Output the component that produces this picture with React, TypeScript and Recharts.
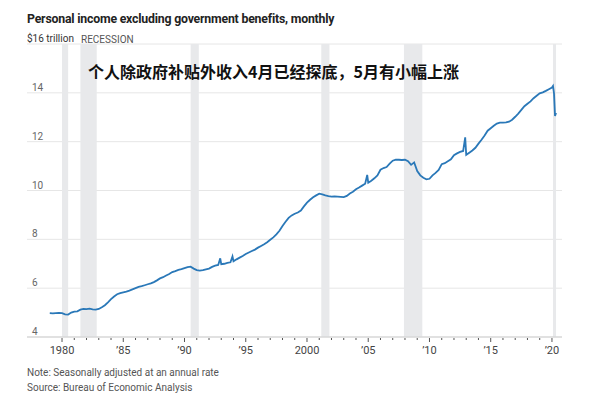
import React from "react";
import { LineChart, Line, XAxis, YAxis, CartesianGrid, ReferenceArea } from "recharts";

// monthly readings (quarterly sampling + the December spikes), $ trillions
const months = [
  "1979-01", "1979-04", "1979-07", "1979-10",
  "1980-01", "1980-04", "1980-07", "1980-10",
  "1981-01", "1981-04", "1981-07", "1981-10",
  "1982-01", "1982-04", "1982-07", "1982-10",
  "1983-01", "1983-04", "1983-07", "1983-10",
  "1984-01", "1984-04", "1984-07", "1984-10",
  "1985-01", "1985-04", "1985-07", "1985-10",
  "1986-01", "1986-04", "1986-07", "1986-10",
  "1987-01", "1987-04", "1987-07", "1987-10",
  "1988-01", "1988-04", "1988-07", "1988-10",
  "1989-01", "1989-04", "1989-07", "1989-10",
  "1990-01", "1990-04", "1990-07", "1990-10",
  "1991-01", "1991-04", "1991-07", "1991-10",
  "1992-01", "1992-04", "1992-07", "1992-10", "1992-12",
  "1993-01", "1993-04", "1993-07", "1993-10", "1993-12",
  "1994-01", "1994-04", "1994-07", "1994-10",
  "1995-01", "1995-04", "1995-07", "1995-10",
  "1996-01", "1996-04", "1996-07", "1996-10",
  "1997-01", "1997-04", "1997-07", "1997-10",
  "1998-01", "1998-04", "1998-07", "1998-10",
  "1999-01", "1999-04", "1999-07", "1999-10",
  "2000-01", "2000-04", "2000-07", "2000-10",
  "2001-01", "2001-04", "2001-07", "2001-10",
  "2002-01", "2002-04", "2002-07", "2002-10",
  "2003-01", "2003-04", "2003-07", "2003-10",
  "2004-01", "2004-04", "2004-07", "2004-10", "2004-12",
  "2005-01", "2005-04", "2005-07", "2005-10",
  "2006-01", "2006-04", "2006-07", "2006-10",
  "2007-01", "2007-04", "2007-07", "2007-10",
  "2008-01", "2008-04", "2008-07", "2008-10",
  "2009-01", "2009-04", "2009-07", "2009-10",
  "2010-01", "2010-04", "2010-07", "2010-10",
  "2011-01", "2011-04", "2011-07", "2011-10",
  "2012-01", "2012-04", "2012-07", "2012-10", "2012-12",
  "2013-01", "2013-04", "2013-07", "2013-10",
  "2014-01", "2014-04", "2014-07", "2014-10",
  "2015-01", "2015-04", "2015-07", "2015-10",
  "2016-01", "2016-04", "2016-07", "2016-10",
  "2017-01", "2017-04", "2017-07", "2017-10",
  "2018-01", "2018-04", "2018-07", "2018-10",
  "2019-01", "2019-04", "2019-07", "2019-10",
  "2020-01", "2020-02", "2020-03", "2020-04", "2020-05",
];

const incomeTrillions = [
  4.98, 4.97, 4.98, 4.99,
  4.98, 4.93, 4.92, 5.0,
  5.04, 5.05, 5.12, 5.15,
  5.14, 5.16, 5.13, 5.12,
  5.15, 5.22, 5.3, 5.42,
  5.55, 5.66, 5.75, 5.8,
  5.83, 5.86, 5.9, 5.95,
  6.0, 6.05, 6.08, 6.12,
  6.16, 6.2, 6.25, 6.32,
  6.4, 6.45, 6.52, 6.58,
  6.66, 6.7, 6.75, 6.78,
  6.82, 6.86, 6.88, 6.8,
  6.74, 6.72, 6.74, 6.77,
  6.8, 6.87, 6.92, 6.95, 7.22,
  6.98, 7.0, 7.04, 7.06, 7.3,
  7.1, 7.18, 7.25, 7.32,
  7.4, 7.46, 7.52, 7.58,
  7.66, 7.73, 7.8, 7.88,
  7.98, 8.08, 8.2, 8.35,
  8.55, 8.72, 8.88, 8.98,
  9.05, 9.1, 9.18, 9.35,
  9.5, 9.62, 9.72, 9.8,
  9.87, 9.84, 9.8, 9.77,
  9.75, 9.76, 9.75, 9.74,
  9.73, 9.78, 9.88, 9.95,
  10.05, 10.12, 10.2, 10.28, 10.64,
  10.32, 10.4, 10.5, 10.62,
  10.85, 10.92, 10.96, 11.1,
  11.22, 11.26, 11.26, 11.25,
  11.26, 11.2, 11.05, 11.15,
  10.8, 10.62, 10.52, 10.46,
  10.48, 10.62, 10.72, 10.84,
  11.08, 11.12, 11.2, 11.28,
  11.45, 11.52, 11.58, 11.62, 12.18,
  11.46, 11.55, 11.64, 11.75,
  11.92, 12.08, 12.25, 12.45,
  12.55, 12.65, 12.74, 12.78,
  12.78, 12.79, 12.82, 12.9,
  13.02, 13.15, 13.3, 13.45,
  13.55, 13.65, 13.78, 13.88,
  13.98, 14.02, 14.08, 14.15,
  14.22, 14.28, 13.98, 13.05, 13.18,
];

const recessionStarts = ["1980-01", "1981-07", "1990-07", "2001-03", "2007-12", "2020-02"];
const recessionEnds = ["1980-07", "1982-11", "1991-03", "2001-11", "2009-06", "2020-05"];

const yTicks = [4, 6, 8, 10, 12, 14, 16];
const yearTicks = [
  1980, 1981, 1982, 1983, 1984, 1985, 1986, 1987, 1988, 1989,
  1990, 1991, 1992, 1993, 1994, 1995, 1996, 1997, 1998, 1999,
  2000, 2001, 2002, 2003, 2004, 2005, 2006, 2007, 2008, 2009,
  2010, 2011, 2012, 2013, 2014, 2015, 2016, 2017, 2018, 2019, 2020,
];
const yearLabels: Record<number, string> = {
  1980: "1980", 1985: "’85", 1990: "’90", 1995: "’95", 2000: "2000",
  2005: "’05", 2010: "’10", 2015: "’15", 2020: "’20",
};

const toYear = (m: string) => {
  const [y, mo] = m.split("-").map(Number);
  return y + (mo - 1) / 12;
};

const data = months.map((m, i) => ({ t: toYear(m), v: incomeTrillions[i] }));

const LATIN = "Roboto, 'Noto Sans', sans-serif";

function YearTick({ x, y, payload }: any) {
  const label = yearLabels[payload.value];
  const major = label !== undefined;
  return (
    <g>
      <line x1={x} x2={x} y1={y + 1} y2={y + (major ? 5 : 3)} stroke="#555" strokeWidth={1} />
      {major && (
        <text x={x} y={y + 17} textAnchor="middle" fontSize={11} fill="#444" fontFamily={LATIN}>
          {label}
        </text>
      )}
    </g>
  );
}

function ValueTick({ y, payload }: any) {
  const top = payload.value === 16;
  return (
    <text x={top ? 27 : 32} y={y - 2} fontSize={10} fill={top ? "#333" : "#666"} fontFamily={LATIN}>
      {top ? "$16 trillion" : payload.value}
    </text>
  );
}

export default function App() {
  return (
    <div style={{ position: "absolute", left: 0, top: 0, width: 600, height: 402, background: "#fff" }}>
      <LineChart width={600} height={402} data={data} margin={{ top: 44, right: 38, bottom: 64, left: 26 }}>
        {recessionStarts.map((s, i) => (
          <ReferenceArea
            key={s}
            x1={toYear(s)}
            x2={toYear(recessionEnds[i])}
            y1={4}
            y2={16}
            fill="#e8e9eb"
            fillOpacity={1}
            stroke="none"
            ifOverflow="hidden"
          />
        ))}
        <CartesianGrid horizontal vertical={false} stroke="#e6e6e6" />
        <XAxis
          type="number"
          dataKey="t"
          domain={[1977.14, 2020.82]}
          ticks={yearTicks}
          tick={<YearTick />}
          tickLine={false}
          tickSize={0}
          tickMargin={0}
          height={1}
          axisLine={{ stroke: "#cfcfcf" }}
          interval={0}
          allowDataOverflow
        />
        <YAxis
          type="number"
          domain={[4, 16]}
          ticks={yTicks}
          width={1}
          axisLine={false}
          tickLine={false}
          tick={<ValueTick />}
          interval={0}
        />
        <Line
          type="linear"
          dataKey="v"
          stroke="#2a78b8"
          strokeWidth={1.8}
          dot={false}
          isAnimationActive={false}
        />
      </LineChart>
      <div style={{ position: "absolute", left: 27, top: 12, fontFamily: LATIN, fontWeight: 700, fontSize: 12.3, color: "#222", letterSpacing: -0.2, whiteSpace: "nowrap" }}>
        Personal income excluding government benefits, monthly
      </div>
      <div style={{ position: "absolute", left: 81, top: 34, fontFamily: LATIN, fontSize: 10, color: "#555", whiteSpace: "nowrap" }}>
        RECESSION
      </div>
      <div style={{ position: "absolute", left: 88, top: 59, fontFamily: "'Noto Sans CJK SC', sans-serif", fontWeight: 700, fontSize: 16, color: "#111", whiteSpace: "nowrap" }}>
        个人除政府补贴外收入4月已经探底，5月有小幅上涨
      </div>
      <div style={{ position: "absolute", left: 27, top: 365, fontFamily: LATIN, fontSize: 10, color: "#555", lineHeight: "15px", whiteSpace: "nowrap" }}>
        <div>Note: Seasonally adjusted at an annual rate</div>
        <div>Source: Bureau of Economic Analysis</div>
      </div>
    </div>
  );
}
